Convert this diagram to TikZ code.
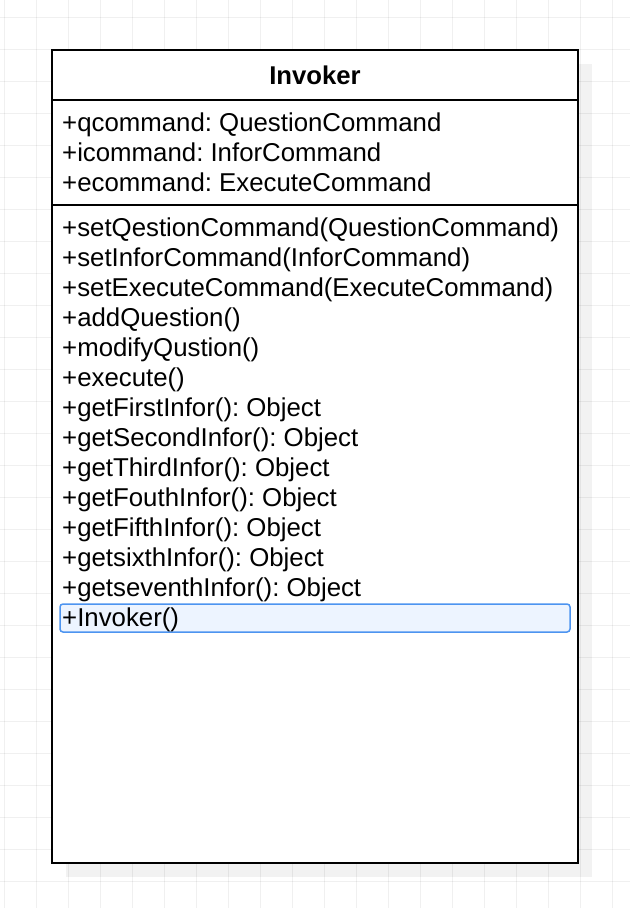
\documentclass[tikz,border=0pt]{standalone}
\usepackage{fontspec}
\setmainfont{Liberation Sans}
\usepackage{xcolor}
\frenchspacing
\definecolor{selblue}{HTML}{4D94F0}
\definecolor{selfill}{HTML}{EDF4FF}
\definecolor{shadowgray}{HTML}{F2F2F2}
\tikzstyle{gridline} = [black, opacity=0.06, line width=1pt]
\tikzstyle{classline} = [black, line width=2pt]
\tikzstyle{title} = [anchor=base, inner sep=0pt, font=\fontsize{25.7}{30}\selectfont\bfseries]
\tikzstyle{member} = [anchor=base west, inner sep=0pt, font=\fontsize{25.8}{30}\selectfont]
\tikzstyle{selbox} = [draw=selblue, fill=selfill, line width=1.5pt, rounded corners=3pt]

\begin{document}
\begin{tikzpicture}[x=1pt, y=-1pt]

\useasboundingbox (0,0) rectangle (630,908);
\fill[white] (0,0) rectangle (630,908);

% shadow and background grid
\fill[shadowgray] (66,64) rectangle (592,877);
\foreach \x in {4,36,...,628} \draw[gridline] (\x,0) -- (\x,908);
\foreach \y in {17,49,...,908} \draw[gridline] (0,\y) -- (630,\y);

% class box
\draw[classline, fill=white] (52,50) rectangle (578,863);
\draw[classline] (52,100) -- (578,100);
\draw[classline] (52,205) -- (578,205);

\node at (315, 84) (name) [title] {Invoker};

\node at (62, 131) (a1) [member] {+qcommand: QuestionCommand};
\node at (62, 161) (a2) [member] {+icommand: InforCommand};
\node at (62, 191) (a3) [member] {+ecommand: ExecuteCommand};

\node at (62, 236) (m1) [member] {+setQestionCommand(QuestionCommand)};
\node at (62, 266) (m2) [member] {+setInforCommand(InforCommand)};
\node at (62, 296) (m3) [member] {+setExecuteCommand(ExecuteCommand)};
\node at (62, 326) (m4) [member] {+addQuestion()};
\node at (62, 356) (m5) [member] {+modifyQustion()};
\node at (62, 386) (m6) [member] {+execute()};
\node at (62, 416) (m7) [member] {+getFirstInfor(): Object};
\node at (62, 446) (m8) [member] {+getSecondInfor(): Object};
\node at (62, 476) (m9) [member] {+getThirdInfor(): Object};
\node at (62, 506) (m10) [member] {+getFouthInfor(): Object};
\node at (62, 536) (m11) [member] {+getFifthInfor(): Object};
\node at (62, 566) (m12) [member] {+getsixthInfor(): Object};
\node at (62, 596) (m13) [member] {+getseventhInfor(): Object};

% selected row
\draw[selbox] (60,604) rectangle (570,632);
\node at (62, 626) (m14) [member] {+Invoker()};

\end{tikzpicture}
\end{document}
